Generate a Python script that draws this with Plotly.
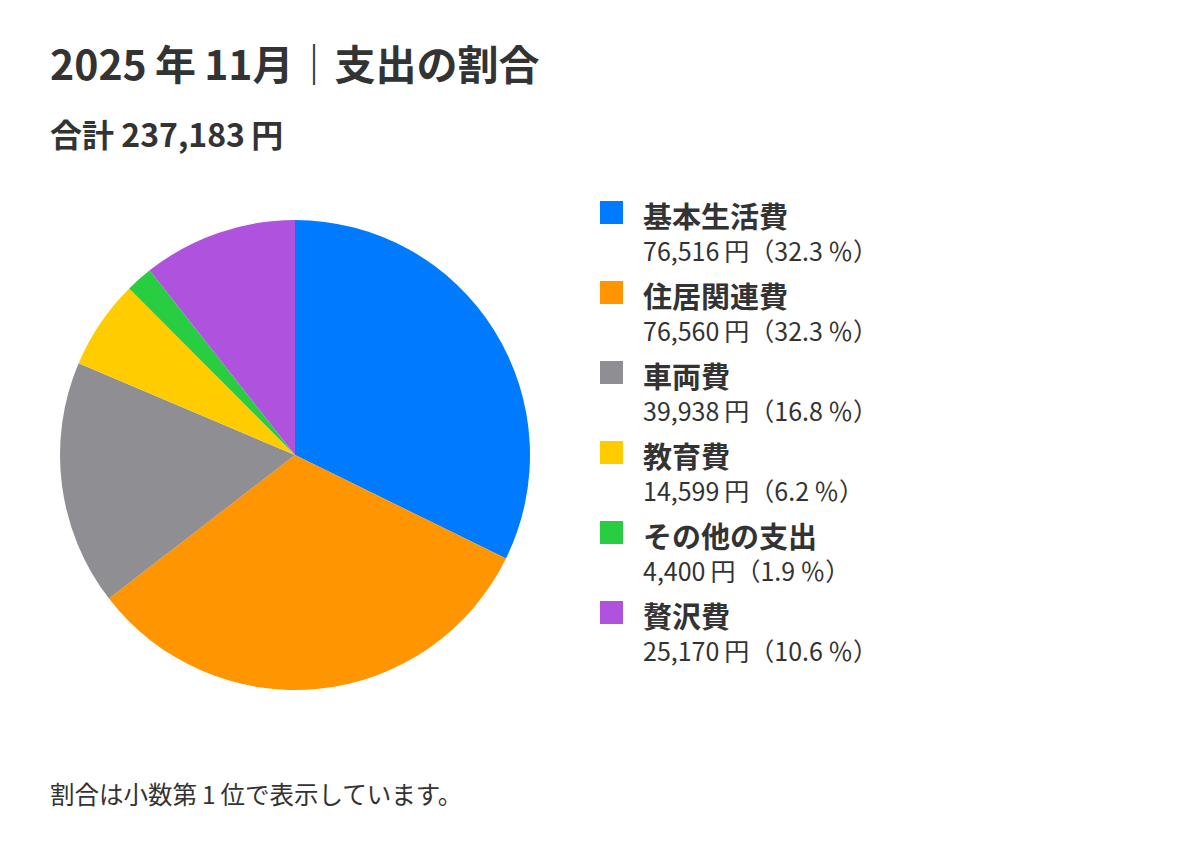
import plotly.graph_objects as go

# ---------- データ ----------
categories = ["基本生活費", "住居関連費", "車両費", "教育費", "その他の支出", "贅沢費"]
amounts = [76516, 76560, 39938, 14599, 4400, 25170]
colors = ["#007AFF", "#FF9500", "#8E8E93", "#FFCC00", "#28CD41", "#AF52DE"]

title_text = "2025\u2009年\u200911月｜支出の割合"
note_text = "割合は小数第\u20091\u2009位で表示しています。"

total = sum(amounts)

# ---------- 表示設定 ----------
W, H = 1200, 850
OFF = 8  # ページ余白ぶんのずれ
FONT = "Noto Sans CJK JP, Noto Sans, sans-serif"
TEXT_COLOR = "#333333"


def px(x):
    return (x - OFF) / W


def py(y):
    return 1 - (y - OFF) / H


fig = go.Figure(
    go.Pie(
        labels=categories,
        values=amounts,
        marker=dict(colors=colors, line=dict(width=0)),
        sort=False,
        direction="clockwise",
        rotation=0,
        textinfo="none",
        hovertemplate="%{label}<br>%{value:,}円（%{percent:.1%}）<extra></extra>",
        domain=dict(x=[px(60), px(530)], y=[py(690), py(220)]),
        showlegend=False,
    )
)

annotations = [
    dict(text=f"<b>{title_text}</b>", x=px(48), y=py(62), font=dict(size=41)),
    dict(text=f"<b>合計 {total:,}\u2009円</b>", x=px(48), y=py(133), font=dict(size=32)),
    dict(text=note_text, x=px(48), y=py(793), font=dict(size=24.5)),
]
shapes = []

# ---------- 凡例（自作） ----------
for i, (cat, amt, col) in enumerate(zip(categories, amounts, colors)):
    top = 201 + 80 * i
    shapes.append(
        dict(
            type="rect", xref="paper", yref="paper",
            x0=px(600), x1=px(623), y0=py(top + 23), y1=py(top),
            fillcolor=col, line=dict(width=0),
        )
    )
    annotations.append(
        dict(text=f"<b>{cat}</b>", x=px(641), y=py(215 + 80 * i), font=dict(size=29))
    )
    annotations.append(
        dict(
            text=f"{amt:,}\u2009円（{amt / total * 100:.1f}\u2009％）",
            x=px(641), y=py(250 + 80 * i), font=dict(size=25),
        )
    )

for a in annotations:
    a.update(xref="paper", yref="paper", xanchor="left", yanchor="middle", showarrow=False)
    a["font"].update(family=FONT, color=TEXT_COLOR)

fig.update_layout(
    annotations=annotations,
    shapes=shapes,
    width=W,
    height=H,
    margin=dict(l=0, r=0, t=0, b=0),
    plot_bgcolor="white",
    paper_bgcolor="white",
    font=dict(family=FONT, color=TEXT_COLOR),
)

fig.write_html("out.html")
